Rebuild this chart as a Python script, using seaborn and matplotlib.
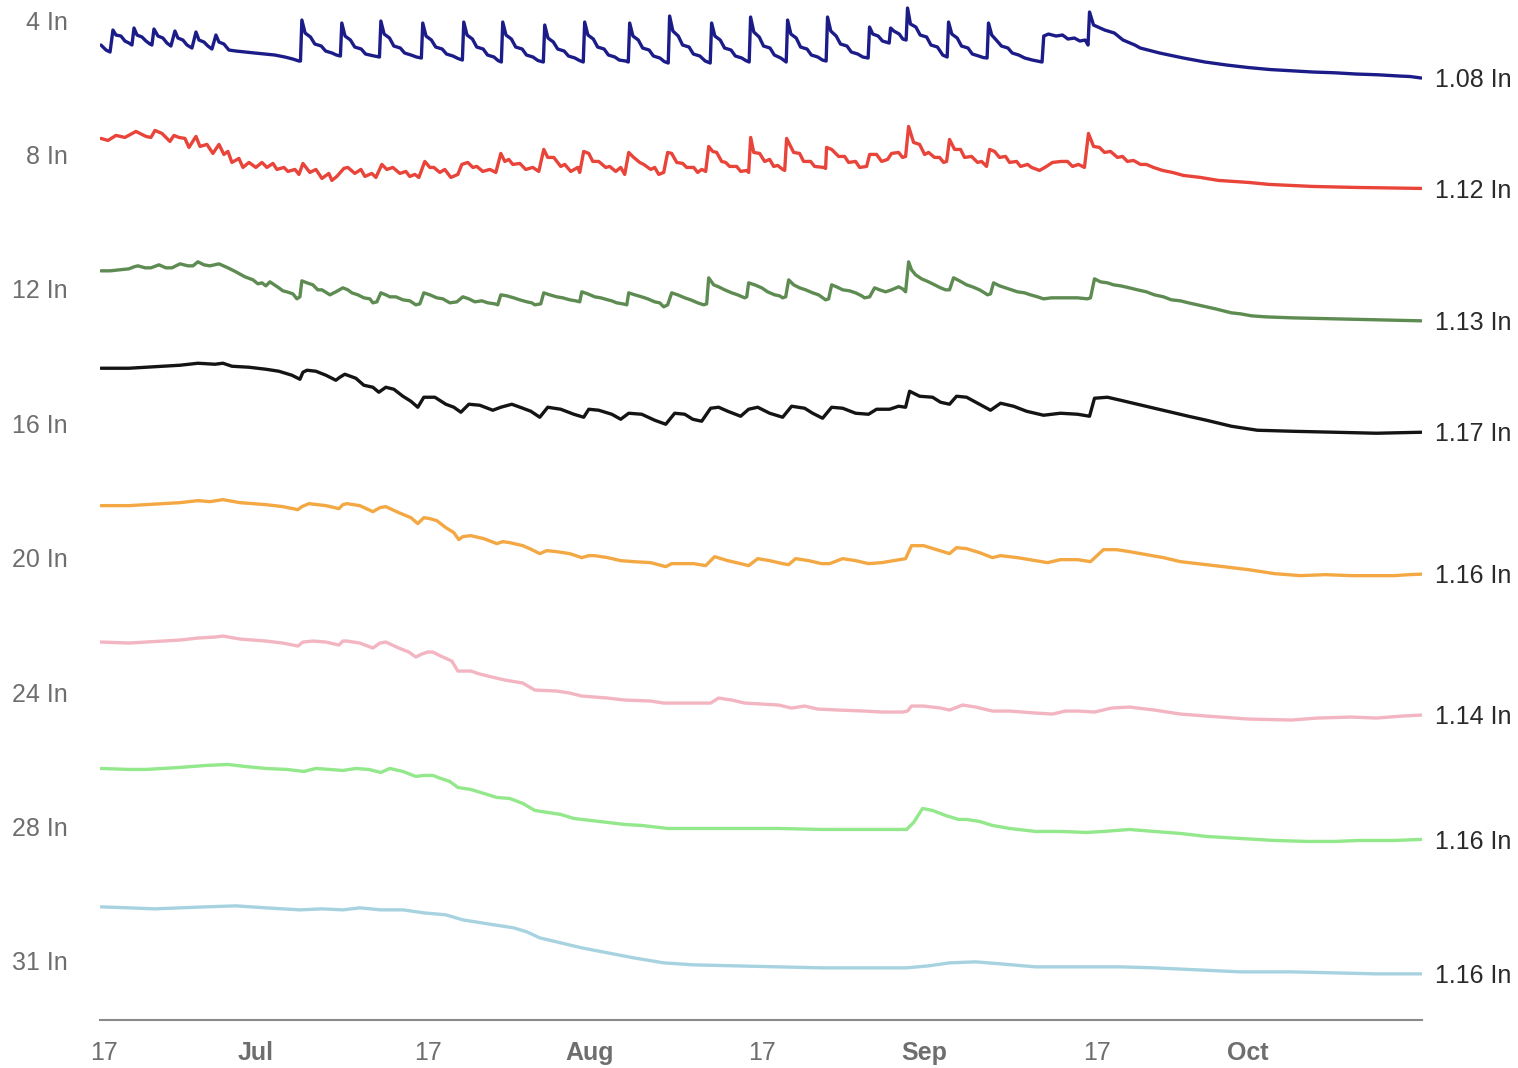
import matplotlib
matplotlib.use("Agg")
import matplotlib.pyplot as plt
import numpy as np
import pandas as pd
import seaborn as sns

# ---------------------------------------------------------------------------
# Soil moisture by sensor depth (inches of water), days counted from 17 June
# ---------------------------------------------------------------------------
season_start = pd.Timestamp("2023-06-17")

depth_labels = ["4 In", "8 In", "12 In", "16 In", "20 In", "24 In", "28 In", "31 In"]

days_4in = [
    -0.28, 0.19, 0.56, 0.83, 1.11, 1.57, 1.94, 2.31, 2.59, 2.78, 3.06, 3.52, 3.89, 4.26, 4.44,
    4.63, 5.00, 5.46, 5.83, 6.20, 6.57, 6.85, 7.31, 7.69, 8.15, 8.52, 8.80, 9.26, 9.63, 10.00,
    10.37, 10.65, 11.11, 11.57, 12.22, 13.06, 13.98, 14.91, 15.83, 16.76, 17.50, 18.06,
    18.20, 18.33, 18.63, 19.13, 19.53, 20.13, 20.53, 21.13, 21.53, 21.90,
    22.03, 22.33, 22.83, 23.23, 23.83, 24.23, 24.83, 25.52,
    25.65, 25.95, 26.45, 26.85, 27.45, 27.85, 28.45, 28.95, 29.40,
    29.53, 29.83, 30.33, 30.73, 31.33, 31.73, 32.33, 32.80, 33.20,
    33.33, 33.63, 34.13, 34.53, 35.13, 35.53, 36.13, 36.50, 36.81,
    36.94, 37.24, 37.74, 38.14, 38.74, 39.14, 39.74, 40.20, 40.70,
    40.83, 41.13, 41.63, 42.03, 42.63, 43.03, 43.63, 44.05, 44.40,
    44.53, 44.83, 45.33, 45.73, 46.33, 46.73, 47.33, 47.73, 48.33, 48.57,
    48.70, 49.00, 49.50, 49.90, 50.50, 50.90, 51.50, 51.90, 52.27,
    52.40, 52.70, 53.20, 53.60, 54.20, 54.60, 55.20, 55.70, 56.16,
    56.29, 56.59, 57.09, 57.49, 58.09, 58.49, 59.09, 59.45, 59.77,
    59.90, 60.20, 60.70, 61.10, 61.70, 62.10, 62.70, 63.20,
    63.33, 63.63, 64.13, 64.53, 65.13, 65.53, 66.13, 66.55, 66.90,
    67.03, 67.33, 67.83, 68.23, 68.83, 69.23, 69.83, 70.30, 70.79,
    70.92, 71.22, 71.72, 72.12, 72.74,
    72.87, 73.17, 73.67, 74.00, 74.31,
    74.44, 74.71, 75.21, 75.61, 76.21, 76.61, 77.21, 77.70, 78.11,
    78.24, 78.54, 79.04, 79.44, 80.04, 80.44, 81.04, 81.45, 81.81,
    81.94, 82.24, 82.74, 83.14, 83.74, 84.14, 84.74, 85.30, 86.00, 86.90,
    87.06, 87.50, 88.20, 88.80, 89.30, 89.90, 90.40, 90.90, 91.16,
    91.30, 91.67, 92.70, 93.60, 94.40, 95.50, 96.00, 97.80, 100.0, 102.0, 104.0, 106.0,
    108.0, 110.0, 112.0, 114.0, 116.0, 118.0, 120.0, 121.0, 122.04,
]
vals_4in = [
    1.212, 1.192, 1.184, 1.272, 1.252, 1.248, 1.228, 1.220, 1.212, 1.280, 1.252, 1.244, 1.228, 1.216, 1.212,
    1.276, 1.248, 1.240, 1.220, 1.208, 1.268, 1.240, 1.232, 1.212, 1.200, 1.264, 1.232, 1.224, 1.208, 1.196,
    1.252, 1.224, 1.216, 1.192, 1.188, 1.184, 1.180, 1.176, 1.172, 1.164, 1.156, 1.148,
    1.148, 1.312, 1.260, 1.244, 1.216, 1.208, 1.188, 1.180, 1.172, 1.168,
    1.300, 1.248, 1.232, 1.204, 1.196, 1.176, 1.170, 1.164,
    1.308, 1.256, 1.240, 1.208, 1.200, 1.180, 1.172, 1.164, 1.160,
    1.300, 1.248, 1.232, 1.204, 1.196, 1.176, 1.168, 1.158, 1.152,
    1.304, 1.252, 1.236, 1.204, 1.196, 1.172, 1.164, 1.150, 1.144,
    1.304, 1.252, 1.236, 1.204, 1.196, 1.172, 1.164, 1.150, 1.144,
    1.292, 1.240, 1.224, 1.196, 1.188, 1.168, 1.160, 1.150, 1.144,
    1.304, 1.252, 1.236, 1.204, 1.196, 1.172, 1.164, 1.152, 1.148, 1.144,
    1.300, 1.248, 1.232, 1.200, 1.192, 1.168, 1.160, 1.146, 1.140,
    1.328, 1.268, 1.248, 1.212, 1.204, 1.176, 1.168, 1.148, 1.140,
    1.300, 1.248, 1.232, 1.200, 1.192, 1.168, 1.160, 1.150, 1.144,
    1.324, 1.264, 1.244, 1.208, 1.200, 1.172, 1.160, 1.144,
    1.312, 1.256, 1.240, 1.204, 1.196, 1.172, 1.164, 1.152, 1.148,
    1.324, 1.268, 1.248, 1.216, 1.208, 1.184, 1.176, 1.164, 1.160,
    1.284, 1.256, 1.248, 1.228, 1.220,
    1.280, 1.268, 1.256, 1.236, 1.232,
    1.360, 1.296, 1.284, 1.252, 1.244, 1.212, 1.204, 1.172, 1.164,
    1.304, 1.256, 1.240, 1.208, 1.200, 1.176, 1.168, 1.162, 1.160,
    1.300, 1.252, 1.228, 1.208, 1.200, 1.180, 1.172, 1.160, 1.152, 1.144,
    1.248, 1.256, 1.248, 1.252, 1.236, 1.240, 1.228, 1.232, 1.212,
    1.344, 1.292, 1.272, 1.260, 1.232, 1.212, 1.200, 1.180, 1.160, 1.144, 1.132, 1.122,
    1.114, 1.109, 1.104, 1.101, 1.096, 1.093, 1.088, 1.086, 1.080,
]

days_8in = [
    -0.28, 0.37, 1.11, 1.94, 2.96, 3.89, 4.35, 4.72, 5.37, 6.11, 6.48, 6.94, 7.50, 7.87, 8.52,
    8.89, 9.54, 10.09, 10.65, 11.11, 11.48, 11.85, 12.50, 12.87, 13.43, 14.07, 14.63, 15.09, 15.65,
    16.02, 16.67, 17.04, 17.69, 18.06, 18.43, 19.07, 19.63, 20.19, 20.83, 21.11, 21.57, 22.22,
    22.59, 23.24, 23.80, 24.17, 24.81, 25.19, 25.74, 26.20, 26.76, 27.41, 27.96, 28.33, 28.80,
    29.17, 29.72, 30.19, 30.56, 31.11, 31.57, 32.13, 32.78, 33.15, 33.70, 34.17, 34.54, 35.09,
    35.74, 36.30, 36.76, 37.13, 37.50, 37.87, 38.52, 39.07, 39.72, 40.28, 40.74, 41.11, 41.67,
    42.31, 42.69, 43.24, 43.89, 44.07, 44.44, 44.91, 45.28, 45.83, 46.48, 46.85, 47.41, 47.87,
    48.24, 48.61, 49.07, 49.63, 50.00, 50.65, 51.02, 51.39, 51.85, 52.22, 52.59, 53.06, 53.61,
    53.98, 54.63, 55.00, 55.37, 55.74, 56.02, 56.39, 56.76, 57.22, 57.59, 57.96, 58.61, 58.98,
    59.54, 59.72, 59.91, 60.19, 60.74, 61.20, 61.67, 62.04, 62.41, 62.87, 63.06, 63.24, 63.89,
    64.44, 64.81, 65.46, 65.83, 66.67, 66.85, 66.94, 67.41, 68.06, 68.61, 68.98, 69.63, 70.00,
    70.65, 70.93, 71.57, 72.04, 72.59, 72.96, 73.61, 73.98, 74.26, 74.54, 75.00, 75.56, 76.02,
    76.39, 76.94, 77.41, 77.78, 78.06, 78.33, 78.80, 79.35, 79.72, 80.37, 80.93, 81.30, 81.76,
    82.04, 82.50, 82.96, 83.52, 83.89, 84.54, 84.91, 85.56, 85.93, 86.67, 87.31, 87.87, 88.70,
    89.26, 89.72, 90.28, 90.83, 91.20, 91.67, 92.22, 92.69, 93.24, 93.89, 94.35, 94.81, 95.37,
    96.02, 96.57, 97.22, 98.06, 98.98, 100.00, 101.57, 103.24, 106.02, 107.96, 111.94, 115.93,
    122.04,
]
vals_8in = [
    1.320, 1.312, 1.332, 1.324, 1.348, 1.328, 1.324, 1.352, 1.340, 1.308, 1.332, 1.324, 1.320, 1.284, 1.328,
    1.288, 1.296, 1.260, 1.296, 1.256, 1.268, 1.224, 1.240, 1.204, 1.224, 1.204, 1.224, 1.204, 1.220,
    1.196, 1.204, 1.188, 1.196, 1.176, 1.220, 1.184, 1.196, 1.160, 1.180, 1.152, 1.168, 1.200,
    1.204, 1.180, 1.196, 1.168, 1.180, 1.164, 1.216, 1.196, 1.204, 1.180, 1.188, 1.168, 1.176,
    1.164, 1.228, 1.204, 1.204, 1.184, 1.196, 1.164, 1.176, 1.216, 1.224, 1.204, 1.208, 1.188,
    1.196, 1.184, 1.260, 1.228, 1.236, 1.216, 1.220, 1.196, 1.204, 1.188, 1.276, 1.244, 1.244,
    1.208, 1.216, 1.188, 1.204, 1.184, 1.268, 1.260, 1.228, 1.228, 1.204, 1.208, 1.188, 1.204,
    1.176, 1.264, 1.244, 1.224, 1.216, 1.196, 1.204, 1.176, 1.184, 1.264, 1.260, 1.224, 1.220,
    1.204, 1.204, 1.184, 1.196, 1.188, 1.288, 1.268, 1.264, 1.228, 1.224, 1.208, 1.208, 1.188,
    1.192, 1.184, 1.324, 1.264, 1.260, 1.228, 1.236, 1.208, 1.212, 1.196, 1.192, 1.320, 1.264,
    1.260, 1.228, 1.228, 1.208, 1.204, 1.200, 1.284, 1.276, 1.248, 1.248, 1.224, 1.228, 1.204,
    1.208, 1.256, 1.256, 1.228, 1.236, 1.260, 1.264, 1.244, 1.248, 1.368, 1.304, 1.296, 1.256,
    1.264, 1.244, 1.244, 1.224, 1.228, 1.316, 1.276, 1.276, 1.244, 1.248, 1.224, 1.228, 1.208,
    1.276, 1.268, 1.244, 1.248, 1.224, 1.228, 1.208, 1.216, 1.204, 1.192, 1.208, 1.224, 1.228,
    1.228, 1.208, 1.216, 1.204, 1.340, 1.288, 1.284, 1.264, 1.268, 1.244, 1.248, 1.228, 1.232,
    1.216, 1.216, 1.204, 1.192, 1.184, 1.172, 1.164, 1.152, 1.144, 1.136, 1.128, 1.124,
    1.120,
]

days_12in = [
    -0.28, 0.56, 1.48, 2.31, 2.78, 3.15, 3.80, 4.35, 5.09, 5.74, 6.30, 7.04, 7.78, 8.24, 8.70,
    9.26, 9.81, 10.65, 11.48, 12.22, 13.06, 13.80, 14.26, 14.63, 15.00, 15.37, 16.20, 16.57, 16.94,
    17.50, 17.87, 18.15, 18.33, 18.80, 19.35, 19.81, 20.19, 20.93, 21.48, 22.13, 22.59, 22.96,
    23.52, 24.07, 24.63, 24.91, 25.28, 25.65, 26.11, 26.48, 27.04, 27.69, 28.33, 28.89, 29.26,
    29.63, 30.19, 30.83, 31.39, 32.04, 32.69, 33.24, 33.80, 34.35, 35.00, 35.56, 36.20, 36.48,
    36.76, 37.31, 37.96, 38.52, 39.17, 39.63, 39.91, 40.46, 40.74, 41.30, 41.94, 42.50, 43.15,
    43.70, 44.07, 44.26, 44.81, 45.46, 46.02, 46.67, 47.04, 47.50, 48.06, 48.43, 48.61, 49.17,
    49.81, 50.37, 51.02, 51.48, 51.85, 52.22, 52.59, 53.15, 53.80, 54.35, 55.00, 55.56, 55.83,
    56.02, 56.48, 56.94, 57.50, 58.15, 58.70, 59.35, 59.54, 59.72, 60.28, 60.93, 61.48, 62.13,
    62.59, 62.87, 63.15, 63.43, 63.89, 64.44, 65.00, 65.65, 66.20, 66.85, 67.13, 67.41, 67.87,
    68.43, 69.07, 69.63, 70.19, 70.46, 70.93, 71.39, 71.85, 72.41, 72.96, 73.61, 73.98, 74.26,
    74.54, 74.81, 75.19, 75.74, 76.39, 76.94, 77.50, 77.96, 78.33, 78.70, 79.26, 79.91, 80.46,
    81.11, 81.57, 81.85, 82.13, 82.41, 82.96, 83.52, 84.07, 84.63, 85.28, 85.83, 86.48, 87.04,
    87.78, 88.61, 89.44, 90.19, 91.11, 91.39, 91.76, 92.31, 92.96, 93.52, 94.17, 95.00, 95.74,
    96.57, 97.31, 98.15, 98.89, 99.72, 100.46, 101.30, 102.13, 102.96, 103.70, 104.44, 105.28,
    106.30, 107.59, 110.00, 113.98, 117.87, 122.04,
]
vals_12in = [
    1.330, 1.330, 1.334, 1.338, 1.346, 1.350, 1.342, 1.342, 1.354, 1.342, 1.342, 1.358, 1.350, 1.350, 1.366,
    1.354, 1.350, 1.358, 1.342, 1.326, 1.306, 1.294, 1.278, 1.282, 1.270, 1.286, 1.262, 1.250, 1.246,
    1.238, 1.218, 1.226, 1.290, 1.282, 1.274, 1.254, 1.254, 1.234, 1.246, 1.262, 1.254, 1.242,
    1.234, 1.222, 1.218, 1.202, 1.206, 1.242, 1.234, 1.226, 1.226, 1.214, 1.210, 1.194, 1.198,
    1.242, 1.234, 1.222, 1.218, 1.202, 1.206, 1.226, 1.218, 1.206, 1.210, 1.202, 1.198, 1.194,
    1.234, 1.230, 1.222, 1.214, 1.206, 1.202, 1.194, 1.198, 1.242, 1.234, 1.226, 1.222, 1.214,
    1.210, 1.206, 1.246, 1.238, 1.226, 1.222, 1.214, 1.210, 1.202, 1.198, 1.194, 1.242, 1.234,
    1.226, 1.218, 1.206, 1.202, 1.186, 1.194, 1.242, 1.234, 1.222, 1.214, 1.202, 1.194, 1.198,
    1.302, 1.274, 1.266, 1.254, 1.242, 1.234, 1.222, 1.226, 1.282, 1.274, 1.262, 1.246, 1.234,
    1.230, 1.222, 1.226, 1.294, 1.274, 1.262, 1.254, 1.242, 1.234, 1.214, 1.218, 1.274, 1.266,
    1.254, 1.250, 1.242, 1.230, 1.222, 1.226, 1.262, 1.254, 1.246, 1.254, 1.266, 1.258, 1.246,
    1.366, 1.334, 1.314, 1.298, 1.286, 1.274, 1.262, 1.254, 1.254, 1.302, 1.290, 1.274, 1.266,
    1.254, 1.242, 1.234, 1.238, 1.282, 1.270, 1.262, 1.254, 1.246, 1.242, 1.234, 1.226, 1.218,
    1.222, 1.222, 1.222, 1.222, 1.218, 1.222, 1.298, 1.286, 1.282, 1.274, 1.270, 1.262, 1.254,
    1.246, 1.234, 1.226, 1.214, 1.210, 1.202, 1.194, 1.186, 1.178, 1.170, 1.162, 1.158,
    1.150, 1.146, 1.142, 1.138, 1.134, 1.130,
]

days_16in = [
    -0.28, 2.31, 3.89, 5.46, 7.04, 8.70, 10.28, 11.02, 11.85, 13.43, 15.00, 16.20, 17.41, 18.15,
    18.43, 18.80, 19.63, 20.56, 21.48, 21.85, 22.31, 23.33, 24.07, 24.91, 25.46, 26.11, 26.85,
    27.69, 28.43, 29.07, 29.63, 30.65, 31.67, 32.41, 33.06, 33.80, 34.81, 36.02, 36.76, 37.78,
    38.80, 39.54, 40.37, 41.11, 42.31, 43.52, 44.44, 44.91, 45.83, 47.04, 47.87, 48.61, 49.81,
    51.02, 52.04, 52.87, 53.80, 54.54, 55.37, 56.20, 56.94, 57.78, 58.98, 59.72, 60.56, 61.67,
    62.87, 63.70, 64.91, 65.65, 66.57, 67.41, 68.43, 69.63, 70.83, 71.57, 72.78, 73.61, 74.26,
    74.63, 75.56, 76.76, 77.50, 78.33, 78.98, 79.91, 81.11, 82.13, 83.06, 84.26, 85.46, 87.04,
    88.61, 90.19, 91.30, 91.76, 92.96, 94.17, 95.74, 97.31, 98.89, 100.46, 102.13, 104.44,
    106.85, 110.00, 113.98, 117.87, 122.04,
]
vals_16in = [
    1.426, 1.426, 1.430, 1.434, 1.438, 1.446, 1.442, 1.446, 1.434, 1.430, 1.422, 1.414, 1.398, 1.382,
    1.410, 1.418, 1.414, 1.398, 1.378, 1.390, 1.402, 1.386, 1.358, 1.350, 1.330, 1.350, 1.342,
    1.314, 1.294, 1.270, 1.310, 1.310, 1.282, 1.270, 1.250, 1.282, 1.278, 1.258, 1.270, 1.282,
    1.266, 1.254, 1.230, 1.270, 1.262, 1.242, 1.230, 1.262, 1.258, 1.242, 1.222, 1.246, 1.242,
    1.218, 1.202, 1.246, 1.242, 1.222, 1.214, 1.266, 1.270, 1.254, 1.234, 1.262, 1.270, 1.246,
    1.230, 1.274, 1.266, 1.246, 1.226, 1.270, 1.266, 1.246, 1.242, 1.262, 1.262, 1.274, 1.270,
    1.334, 1.314, 1.310, 1.290, 1.282, 1.314, 1.310, 1.282, 1.258, 1.286, 1.274, 1.254, 1.238,
    1.246, 1.242, 1.234, 1.306, 1.310, 1.298, 1.282, 1.266, 1.250, 1.234, 1.218, 1.194,
    1.178, 1.174, 1.170, 1.166, 1.170,
]

days_20in = [
    -0.28, 2.31, 3.89, 5.46, 7.04, 8.70, 9.81, 11.02, 12.59, 15.00, 16.57, 17.96, 18.33, 18.98,
    20.56, 21.76, 22.13, 22.50, 23.70, 24.91, 25.56, 26.11, 27.31, 28.43, 29.07, 29.63, 30.19,
    30.83, 31.67, 32.41, 32.87, 33.24, 33.98, 35.19, 36.39, 36.94, 37.59, 38.80, 39.63, 40.37,
    41.02, 41.94, 43.15, 44.26, 44.91, 45.46, 46.67, 47.87, 49.07, 50.65, 52.04, 52.59, 53.43,
    54.63, 55.74, 56.57, 57.78, 58.98, 59.72, 60.56, 61.67, 62.87, 63.43, 64.07, 65.28, 66.48,
    67.22, 68.43, 69.63, 70.83, 72.04, 73.15, 74.26, 74.81, 75.93, 77.13, 78.33, 78.98, 79.91,
    81.11, 82.31, 83.06, 84.63, 86.30, 87.41, 88.61, 90.19, 91.39, 92.59, 93.80, 95.00, 96.57,
    98.15, 99.72, 101.30, 103.70, 106.02, 108.43, 110.83, 113.15, 115.56, 117.87, 119.54, 120.93,
    122.04,
]
vals_20in = [
    1.436, 1.436, 1.440, 1.444, 1.448, 1.456, 1.452, 1.460, 1.448, 1.440, 1.432, 1.420, 1.432, 1.444,
    1.436, 1.424, 1.440, 1.444, 1.436, 1.412, 1.428, 1.432, 1.408, 1.388, 1.364, 1.388, 1.384,
    1.376, 1.348, 1.328, 1.300, 1.312, 1.316, 1.304, 1.284, 1.292, 1.288, 1.276, 1.260, 1.244,
    1.256, 1.252, 1.244, 1.228, 1.236, 1.236, 1.228, 1.216, 1.212, 1.208, 1.192, 1.204, 1.204,
    1.204, 1.196, 1.232, 1.216, 1.204, 1.196, 1.224, 1.216, 1.204, 1.200, 1.224, 1.216, 1.204,
    1.204, 1.224, 1.216, 1.204, 1.208, 1.216, 1.224, 1.276, 1.276, 1.260, 1.244, 1.268, 1.264,
    1.248, 1.228, 1.236, 1.228, 1.216, 1.208, 1.220, 1.220, 1.212, 1.260, 1.260, 1.252, 1.240,
    1.228, 1.212, 1.204, 1.192, 1.180, 1.164, 1.156, 1.160, 1.156, 1.156, 1.156, 1.160,
    1.162,
]

days_24in = [
    -0.28, 2.31, 3.89, 5.46, 7.04, 8.70, 10.28, 11.02, 12.59, 15.00, 16.57, 17.96, 18.43, 19.35,
    20.56, 21.76, 22.13, 22.50, 23.70, 24.91, 25.56, 26.11, 27.31, 28.24, 28.89, 29.44, 30.00,
    30.46, 31.20, 32.22, 32.78, 33.98, 34.81, 35.56, 37.13, 38.80, 39.91, 41.94, 43.15, 44.26,
    46.67, 48.24, 50.65, 51.85, 54.63, 56.20, 56.94, 58.15, 59.35, 60.93, 62.50, 63.70, 64.91,
    66.11, 68.06, 70.46, 72.04, 73.98, 74.44, 74.81, 75.93, 77.50, 78.33, 79.54, 80.74, 82.31,
    83.89, 86.30, 87.87, 89.07, 90.19, 91.76, 93.33, 95.00, 97.31, 99.72, 102.13, 106.02,
    110.00, 112.41, 115.56, 117.87, 120.28, 122.04,
]
vals_24in = [
    1.436, 1.432, 1.436, 1.440, 1.444, 1.452, 1.456, 1.460, 1.448, 1.440, 1.432, 1.420, 1.436, 1.440,
    1.436, 1.424, 1.440, 1.440, 1.432, 1.412, 1.432, 1.436, 1.412, 1.396, 1.376, 1.388, 1.396,
    1.396, 1.380, 1.360, 1.320, 1.320, 1.308, 1.300, 1.284, 1.272, 1.244, 1.240, 1.232, 1.220,
    1.212, 1.204, 1.200, 1.192, 1.192, 1.192, 1.212, 1.204, 1.192, 1.188, 1.184, 1.172, 1.180,
    1.168, 1.164, 1.160, 1.156, 1.156, 1.160, 1.180, 1.180, 1.172, 1.164, 1.184, 1.176, 1.160,
    1.160, 1.152, 1.148, 1.160, 1.160, 1.156, 1.172, 1.176, 1.164, 1.148, 1.140, 1.128,
    1.124, 1.132, 1.136, 1.132, 1.140, 1.144,
]

days_28in = [
    -0.28, 2.31, 3.89, 5.46, 7.04, 9.44, 11.48, 13.06, 15.00, 16.94, 18.52, 19.63, 20.93, 22.13,
    23.33, 24.54, 25.65, 26.48, 27.69, 28.89, 29.63, 30.46, 31.20, 32.04, 32.78, 33.98, 35.19,
    36.39, 37.59, 38.80, 39.91, 41.11, 42.31, 43.52, 45.09, 46.67, 48.24, 49.81, 52.22, 54.63,
    58.52, 62.50, 66.48, 70.46, 74.35, 75.00, 75.83, 76.76, 77.96, 79.17, 79.91, 81.11, 82.31,
    83.89, 86.30, 88.61, 91.02, 92.59, 95.00, 97.31, 99.72, 102.13, 105.28, 108.43, 111.57,
    113.98, 116.30, 119.54, 122.04,
]
vals_28in = [
    1.444, 1.440, 1.440, 1.444, 1.448, 1.456, 1.460, 1.452, 1.444, 1.440, 1.432, 1.444, 1.440, 1.436,
    1.444, 1.440, 1.428, 1.444, 1.432, 1.412, 1.416, 1.416, 1.404, 1.392, 1.368, 1.360, 1.344,
    1.328, 1.324, 1.304, 1.276, 1.268, 1.260, 1.244, 1.236, 1.228, 1.220, 1.216, 1.204, 1.204,
    1.204, 1.204, 1.200, 1.200, 1.200, 1.228, 1.284, 1.276, 1.256, 1.240, 1.240, 1.232, 1.216,
    1.204, 1.192, 1.192, 1.188, 1.192, 1.200, 1.192, 1.184, 1.172, 1.164, 1.156, 1.152,
    1.152, 1.156, 1.156, 1.160,
]

days_31in = [
    -0.28, 2.31, 4.72, 7.04, 9.44, 12.22, 15.00, 18.15, 20.19, 22.13, 23.70, 25.65, 27.69, 29.63,
    31.67, 33.24, 35.56, 37.96, 39.17, 40.37, 42.31, 44.26, 46.67, 49.07, 51.85, 54.63, 58.52,
    62.50, 66.48, 70.46, 74.35, 76.39, 78.33, 80.74, 83.06, 86.30, 90.19, 94.17, 97.31, 101.30,
    105.28, 110.00, 113.98, 117.87, 122.04,
]
vals_31in = [
    1.424, 1.420, 1.416, 1.420, 1.424, 1.428, 1.420, 1.412, 1.416, 1.412, 1.420, 1.412, 1.412, 1.400,
    1.392, 1.372, 1.356, 1.340, 1.324, 1.300, 1.280, 1.260, 1.240, 1.220, 1.200, 1.192, 1.188,
    1.184, 1.180, 1.180, 1.180, 1.188, 1.200, 1.204, 1.196, 1.184, 1.184, 1.184, 1.180, 1.172,
    1.164, 1.164, 1.160, 1.156, 1.156,
]

series_days = [days_4in, days_8in, days_12in, days_16in, days_20in, days_24in, days_28in, days_31in]
series_vals = [vals_4in, vals_8in, vals_12in, vals_16in, vals_20in, vals_24in, vals_28in, vals_31in]

# moisture level that sits on each depth's lane line
lane_base = [1.312, 1.256, 1.258, 1.206, 1.228, 1.236, 1.212, 1.208]

tick_dates = ["2023-06-17", "2023-07-01", "2023-07-17", "2023-08-01",
              "2023-08-17", "2023-09-01", "2023-09-17", "2023-10-01"]
tick_labels = ["17", "Jul", "17", "Aug", "17", "Sep", "17", "Oct"]

line_colors = ["#1c1c88", "#e8443a", "#5d8b52", "#141414",
               "#f3a843", "#f3b5c1", "#92e88a", "#a7d3e0"]

# lanes per inch of water: how strongly each trace swings around its lane
GAIN = 250 / 134.4

# ---------------------------------------------------------------------------
frames = []
for i, (label, d, v) in enumerate(zip(depth_labels, series_days, series_vals)):
    d = np.asarray(d, dtype=float)
    v = np.asarray(v, dtype=float)
    frames.append(pd.DataFrame({
        "date": season_start + pd.to_timedelta(d, unit="D"),
        "depth": label,
        "moisture": v,
        "lane": i - (v - lane_base[i]) * GAIN,
    }))
df = pd.concat(frames, ignore_index=True)

sns.set_theme(style="white")
plt.rcParams["font.family"] = ["Liberation Sans", "DejaVu Sans"]

fig = plt.figure(figsize=(15.18, 10.68), dpi=100)
ax = fig.add_axes([100 / 1518, 48 / 1068, 1322 / 1518, 1020 / 1068])

sns.lineplot(data=df, x="date", y="lane", hue="depth", hue_order=depth_labels,
             palette=line_colors, estimator=None, sort=False, legend=False,
             linewidth=2.4, ax=ax)
for line in ax.get_lines():
    line.set_solid_joinstyle("round")
    line.set_solid_capstyle("round")

ax.set_xlim(season_start + pd.Timedelta(days=-0.37), season_start + pd.Timedelta(days=122.1))
ax.set_ylim(7.44, -0.149)

ax.set_yticks(range(len(depth_labels)))
ax.set_yticklabels(depth_labels)
ax.tick_params(axis="y", length=0, pad=23, labelsize=18, labelcolor="#6e6e6e")

ax.set_xticks(pd.to_datetime(tick_dates))
ax.set_xticklabels(tick_labels)
ax.tick_params(axis="x", length=7, width=1.3, color="#8a8a8a", pad=8,
               labelsize=18, labelcolor="#6e6e6e")
for t in ax.get_xticklabels():
    if not t.get_text().isdigit():
        t.set_fontweight("bold")

ax.set_xlabel("")
ax.set_ylabel("")
for side in ["top", "right", "left"]:
    ax.spines[side].set_visible(False)
ax.spines["bottom"].set_color("#8a8a8a")
ax.spines["bottom"].set_linewidth(1.5)

# latest reading written at the end of each trace
for i, (d, v) in enumerate(zip(series_days, series_vals)):
    last_v = v[-1]
    ax.annotate(f"{last_v:.2f} In",
                xy=(season_start + pd.Timedelta(days=d[-1]), i - (last_v - lane_base[i]) * GAIN),
                xytext=(10, -1.5), textcoords="offset points", ha="left", va="center",
                fontsize=18, color="#2a2a2a", annotation_clip=False)

fig.savefig("out.png", dpi=100)
